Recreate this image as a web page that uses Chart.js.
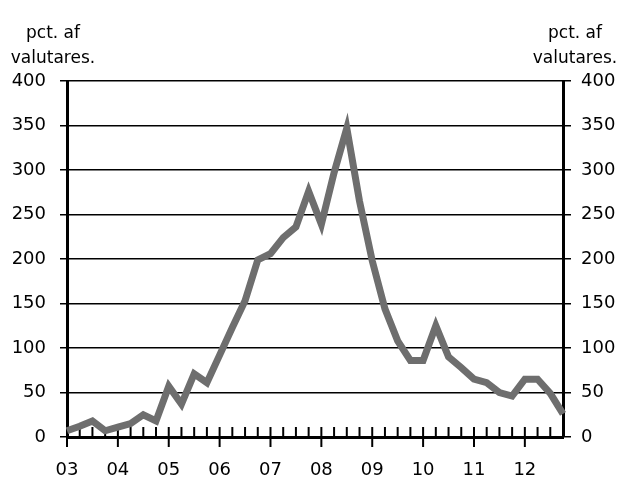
<!DOCTYPE html>
<html>
<head>
<meta charset="utf-8">
<script src="https://cdn.jsdelivr.net/npm/chart.js@4"></script>
<style>
  html, body { margin: 0; padding: 0; background: #fff; }
</style>
</head>
<body>
<canvas id="reserveChart" width="621" height="479"></canvas>
<script>
// quarterly observations, 2003 Q1 - 2012 Q4
const quarters = [
  "03K1", "03K2", "03K3", "03K4", "04K1", "04K2", "04K3", "04K4",
  "05K1", "05K2", "05K3", "05K4", "06K1", "06K2", "06K3", "06K4",
  "07K1", "07K2", "07K3", "07K4", "08K1", "08K2", "08K3", "08K4",
  "09K1", "09K2", "09K3", "09K4", "10K1", "10K2", "10K3", "10K4",
  "11K1", "11K2", "11K3", "11K4", "12K1", "12K2", "12K3", "12K4"
];

const reserveShare = [
  7, 12, 18, 7, 11, 15, 25, 18,
  57, 37, 71, 61, 92, 123, 153, 199,
  206, 224, 236, 276, 239, 297, 347, 265,
  198, 144, 108, 86, 86, 125, 90, 78,
  65, 61, 50, 46, 65, 65, 49, 26
];

const unitLabel = ["pct. af", "valutares."];

const FONT = "DejaVu Sans";

// small quarter ticks inside the plot, longer year ticks crossing the axis
const quarterTicks = {
  id: "quarterTicks",
  beforeDatasetsDraw(chart) {
    const { ctx, chartArea } = chart;
    const x = chart.scales.x;
    ctx.save();
    ctx.strokeStyle = "#000";
    ctx.lineWidth = 2;
    quarters.forEach((q, i) => {
      const px = x.getPixelForValue(i);
      ctx.beginPath();
      ctx.moveTo(px, chartArea.bottom - 10);
      ctx.lineTo(px, chartArea.bottom + (i % 4 === 0 ? 10 : 0));
      ctx.stroke();
    });
    ctx.restore();
  },
};

const unitText = {
  id: "unitText",
  afterDraw(chart) {
    const ctx = chart.ctx;
    ctx.save();
    ctx.font = `17px "${FONT}"`;
    ctx.fillStyle = "#000";
    ctx.textAlign = "center";
    ctx.fillText(unitLabel[0], 53, 38);
    ctx.fillText(unitLabel[1], 53, 63);
    ctx.fillText(unitLabel[0], 575, 38);
    ctx.fillText(unitLabel[1], 575, 63);
    ctx.restore();
  },
};

const ctx = document.getElementById("reserveChart").getContext("2d");

new Chart(ctx, {
  type: "line",
  data: {
    labels: quarters,
    datasets: [
      {
        data: reserveShare,
        borderColor: "#6e6e6e",
        borderWidth: 7,
        pointRadius: 0,
        tension: 0,
        fill: false,
      },
    ],
  },
  options: {
    responsive: false,
    animation: false,
    devicePixelRatio: 1,
    layout: { padding: { top: 81, left: 0, right: 0, bottom: 0 } },
    plugins: {
      legend: { display: false },
      tooltip: { enabled: false },
    },
    scales: {
      x: {
        type: "category",
        offset: false,
        grid: { display: false },
        border: { color: "#000", width: 3 },
        ticks: {
          autoSkip: false,
          maxRotation: 0,
          padding: 15,
          color: "#000",
          font: { family: FONT, size: 18 },
          callback: function (value, index) {
            return index % 4 === 0 ? quarters[index].slice(0, 2) : null;
          },
        },
        afterFit: (scale) => {
          scale.height = 42;
        },
      },
      y: {
        position: "left",
        min: 0,
        max: 400,
        grid: { color: "#000", lineWidth: 1.5, tickLength: 7 },
        border: { color: "#000", width: 3 },
        ticks: {
          stepSize: 50,
          padding: 14,
          color: "#000",
          font: { family: FONT, size: 18 },
        },
        afterFit: (scale) => {
          scale.width = 67;
        },
      },
      y2: {
        position: "right",
        min: 0,
        max: 400,
        grid: { drawOnChartArea: false, color: "#000", lineWidth: 1.5, tickLength: 8 },
        border: { color: "#000", width: 3 },
        ticks: {
          stepSize: 50,
          padding: 10,
          color: "#000",
          font: { family: FONT, size: 18 },
        },
        afterFit: (scale) => {
          scale.width = 58;
        },
      },
    },
  },
  plugins: [quarterTicks, unitText],
});
</script>
</body>
</html>
